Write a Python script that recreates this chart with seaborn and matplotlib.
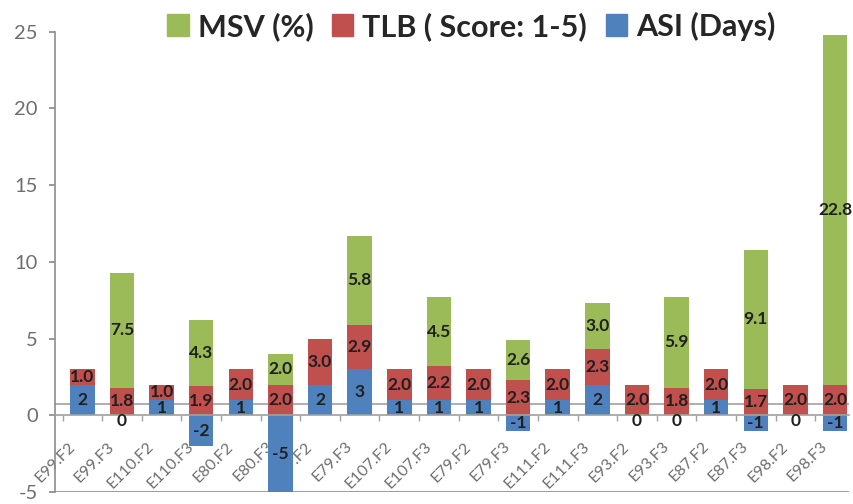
import numpy as np
import pandas as pd
import matplotlib
matplotlib.use("Agg")
import matplotlib.pyplot as plt
import matplotlib.transforms as mtransforms
import seaborn as sns
from matplotlib.patches import Patch
from matplotlib.ticker import FixedLocator

categories = ["E99.F2", "E99.F3", "E110.F2", "E110.F3", "E80.F2", "E80.F3",
              "E79.F2", "E79.F3", "E107.F2", "E107.F3", "E79.F2", "E79.F3",
              "E111.F2", "E111.F3", "E93.F2", "E93.F3", "E87.F2", "E87.F3",
              "E98.F2", "E98.F3"]
asi = [2, 0, 1, -2, 1, -5, 2, 3, 1, 1, 1, -1, 1, 2, 0, 0, 1, -1, 0, -1]
tlb = [1.0, 1.8, 1.0, 1.9, 2.0, 2.0, 3.0, 2.9, 2.0, 2.2, 2.0, 2.3, 2.0, 2.3,
       2.0, 1.8, 2.0, 1.7, 2.0, 2.0]
msv = [np.nan, 7.5, np.nan, 4.3, np.nan, 2.0, np.nan, 5.8, np.nan, 4.5,
       np.nan, 2.6, np.nan, 3.0, np.nan, 5.9, np.nan, 9.1, np.nan, 22.8]
series_names = ["MSV (%)", "TLB ( Score: 1-5)", "ASI (Days)"]
yticks = [-5, 0, 5, 10, 15, 20, 25]

c_green = "#9BBB59"
c_red = "#C0504D"
c_blue = "#4F81BD"

sns.set_theme(style="white")
plt.rcParams["font.family"] = ["Lato", "DejaVu Sans"]

asi_a = np.array(asi, dtype=float)
tlb_a = np.array(tlb, dtype=float)
msv_a = np.nan_to_num(np.array(msv, dtype=float))
base = np.clip(asi_a, 0, None)
red_top = base + tlb_a
green_top = red_top + msv_a

df = pd.DataFrame({"pos": np.arange(len(categories)),
                   "asi": asi_a, "red_top": red_top, "green_top": green_top})

fig = plt.figure(figsize=(8.54, 5.04), dpi=100)
ax = fig.add_axes([0.064, 0.024, 0.93, 0.913])

ax.axhline(0.7, color="#a8a8a8", lw=1.3, zorder=1)

w = 0.62
sns.barplot(data=df, x="pos", y="green_top", color=c_green, saturation=1,
            width=w, ax=ax, linewidth=0, zorder=2)
sns.barplot(data=df, x="pos", y="red_top", color=c_red, saturation=1,
            width=w, ax=ax, linewidth=0, zorder=2)
sns.barplot(data=df, x="pos", y="asi", color=c_blue, saturation=1,
            width=w, ax=ax, linewidth=0, zorder=2)

txt_kw = dict(ha="center", va="center", fontsize=12.5, color="#1f1f1f",
              fontweight="bold", zorder=4)
for i in range(len(categories)):
    ax.text(i, asi_a[i] / 2 if asi_a[i] != 0 else -0.35, f"{int(asi[i])}", **txt_kw)
    ax.text(i, base[i] + tlb_a[i] / 2, f"{tlb[i]:.1f}", **txt_kw)
    if not np.isnan(msv[i]):
        ax.text(i, red_top[i] + msv_a[i] / 2, f"{msv[i]:.1f}", **txt_kw)

for s in ["top", "right"]:
    ax.spines[s].set_visible(False)
ax.spines["left"].set_color("#8c8c8c")
ax.spines["left"].set_linewidth(1.2)
ax.spines["bottom"].set_position(("data", 0))
ax.spines["bottom"].set_color("#a0a0a0")
ax.spines["bottom"].set_linewidth(1.2)
ax.axhline(-5, color="#a0a0a0", lw=1.5, zorder=1)

ax.set_ylim(-5, 25)
ax.set_xlim(-0.7, 19.35)
ax.set_yticks(yticks)
ax.set_yticklabels([str(t) for t in yticks], fontsize=14.5, color="#6e6e6e")
ax.set_xticks(range(len(categories)))
ax.set_xticklabels(categories, rotation=45, ha="right", va="center",
                   rotation_mode="anchor", fontsize=11.5, color="#6e6e6e")
ax.set_xlabel("")
ax.set_ylabel("")

ax.tick_params(axis="y", which="major", left=True, length=4, color="#8c8c8c",
               pad=8)
ax.tick_params(axis="x", which="major", bottom=False, pad=15)
ax.xaxis.set_minor_locator(FixedLocator(np.arange(-0.5, len(categories), 1.0)))
ax.tick_params(axis="x", which="minor", bottom=True, length=4, color="#a0a0a0")

offset = mtransforms.ScaledTranslation(-7 / 72, 0, fig.dpi_scale_trans)
for lab in ax.get_xticklabels():
    lab.set_transform(lab.get_transform() + offset)

handles = [Patch(color=c_green), Patch(color=c_red), Patch(color=c_blue)]
fig.legend(handles, series_names, loc="center", bbox_to_anchor=(0.552, 0.948),
           ncol=3, frameon=False, handlelength=0.7, handleheight=0.7,
           handletextpad=0.3, columnspacing=0.6,
           prop={"family": ["Lato", "DejaVu Sans"], "weight": "bold", "size": 22})
for t in fig.legends[0].get_texts():
    t.set_color("#262626")

fig.savefig("out.png", dpi=100)
